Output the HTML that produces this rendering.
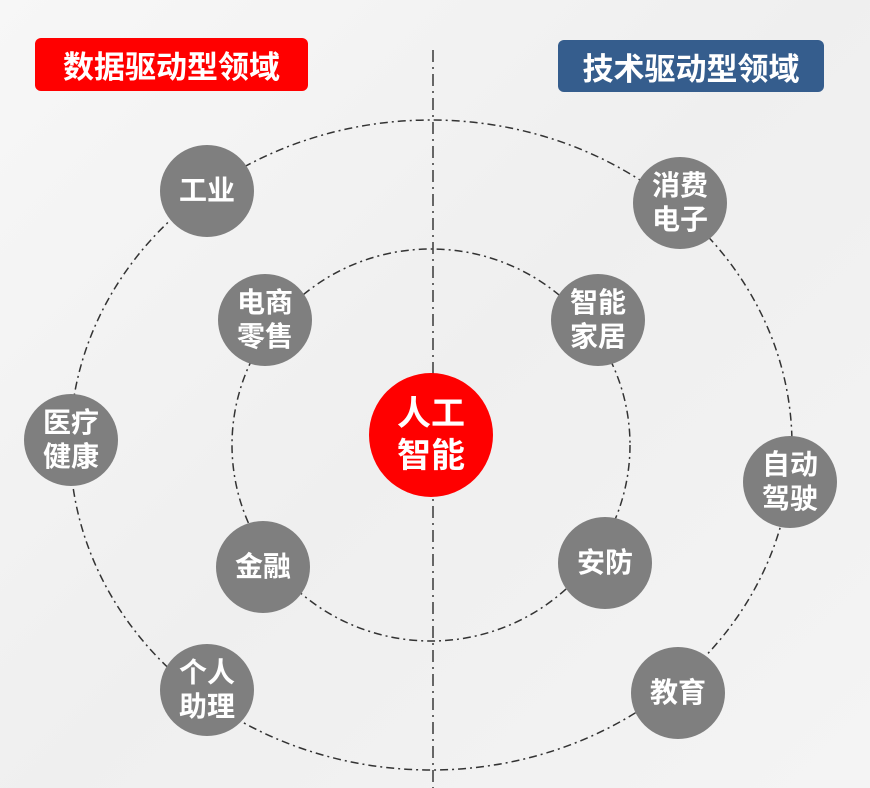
<!DOCTYPE html>
<html><head><meta charset="utf-8"><style>
body{margin:0;width:870px;height:788px;overflow:hidden;background:linear-gradient(135deg,#f7f7f7,#efefef 50%,#f4f4f4);font-family:"Liberation Sans","Noto Sans CJK SC",sans-serif;}
.n{position:absolute;border-radius:50%;background:#7f7f7f;color:#fff;font-weight:bold;font-size:28px;line-height:34px;display:flex;align-items:center;justify-content:center;text-align:center;}
.h{position:absolute;color:#fff;font-weight:bold;font-size:31px;display:flex;align-items:center;justify-content:center;border-radius:6px;}
</style></head><body>
<svg width="870" height="788" style="position:absolute;left:0;top:0">
<line x1="433" y1="50" x2="433" y2="788" stroke="#666" stroke-width="2" stroke-dasharray="12,5,2,5"/>
<ellipse cx="431" cy="445" rx="361" ry="325" fill="none" stroke="#333" stroke-width="1.5" stroke-dasharray="8,4,2,4"/>
<ellipse cx="431" cy="445" rx="199" ry="196" fill="none" stroke="#333" stroke-width="1.5" stroke-dasharray="8,4,2,4"/>
</svg>
<div class="h" style="left:35px;top:38px;width:273px;height:53px;background:#ff0000">数据驱动型领域</div>
<div class="h" style="left:558px;top:40px;width:266px;height:52px;background:#355d8d">技术驱动型领域</div>
<div class="n" style="left:369px;top:373px;width:124px;height:124px;background:#ff0000;font-size:34px;line-height:42px">人工<br>智能</div>
<div class="n" style="left:160px;top:145px;width:94px;height:92px">工业</div>
<div class="n" style="left:218px;top:274px;width:94px;height:92px">电商<br>零售</div>
<div class="n" style="left:24px;top:394px;width:94px;height:92px">医疗<br>健康</div>
<div class="n" style="left:216px;top:521px;width:94px;height:92px">金融</div>
<div class="n" style="left:160px;top:644px;width:94px;height:92px">个人<br>助理</div>
<div class="n" style="left:633px;top:157px;width:94px;height:92px">消费<br>电子</div>
<div class="n" style="left:551px;top:274px;width:94px;height:92px">智能<br>家居</div>
<div class="n" style="left:743px;top:436px;width:94px;height:92px">自动<br>驾驶</div>
<div class="n" style="left:558px;top:517px;width:94px;height:92px">安防</div>
<div class="n" style="left:631px;top:647px;width:94px;height:92px">教育</div>
</body></html>
